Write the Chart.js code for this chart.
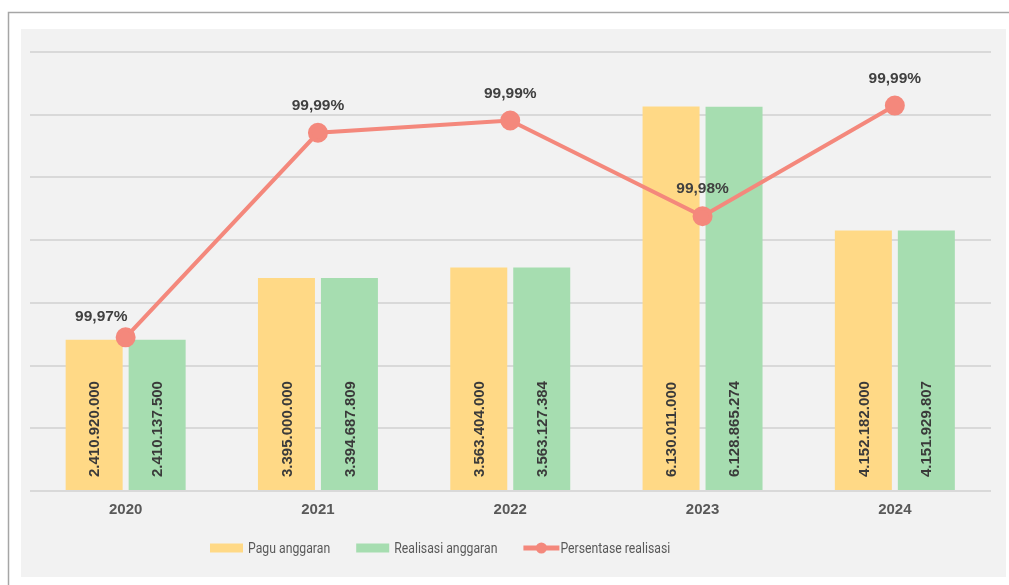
<!DOCTYPE html>
<html><head><meta charset="utf-8">
<script src="https://cdn.jsdelivr.net/npm/chart.js@4.4.0/dist/chart.umd.min.js"></script>
<style>html,body{margin:0;padding:0;background:#fff;} #wrap{width:1009px;height:585px;position:relative;}</style>
</head><body><div id="wrap"><canvas id="c" width="1009" height="585"></canvas></div>
<script>
const categories = ['2020', '2021', '2022', '2023', '2024'];
const paguAnggaran = [2410920000, 3395000000, 3563404000, 6130011000, 4152182000];
const realisasiAnggaran = [2410137500, 3394687809, 3563127384, 6128865274, 4151929807];
const persentaseRealisasi = [99.9675, 99.9908, 99.9922, 99.9813, 99.9939];
const seriesNames = ['Pagu anggaran', 'Realisasi anggaran', 'Persentase realisasi'];
const seriesColors = ['#FFD986', '#A6DDB0', '#F4887C'];

const BOLD = "bold 15px 'Liberation Sans', Arial, sans-serif";
const BOLD_PCT = "bold 15.5px 'Liberation Sans', Arial, sans-serif";
function fmtThousands(v) { return String(v).replace(/\B(?=(\d{3})+(?!\d))/g, '.'); }
function fmtPct(v) { return v.toFixed(2).replace('.', ',') + '%'; }

const backgroundPlugin = {
  id: 'bgPanel',
  beforeDraw(chart) {
    const ctx = chart.ctx;
    ctx.save();
    ctx.fillStyle = '#ffffff';
    ctx.fillRect(0, 0, chart.width, chart.height);
    ctx.strokeStyle = '#a6a6a6';
    ctx.lineWidth = 1.5;
    ctx.strokeRect(8.5, 12.5, chart.width + 20, chart.height + 20);
    ctx.fillStyle = '#f2f2f2';
    ctx.fillRect(21, 29, 985, 548);
    ctx.restore();
  }
};

const labelsPlugin = {
  id: 'valueLabels',
  afterDatasetsDraw(chart) {
    const ctx = chart.ctx;
    ctx.save();
    chart.data.datasets.forEach((ds, di) => {
      if (ds.type !== 'bar') return;
      const meta = chart.getDatasetMeta(di);
      meta.data.forEach((el, i) => {
        ctx.save();
        ctx.translate(el.x, el.base - 13);
        ctx.rotate(-Math.PI / 2);
        ctx.font = BOLD;
        ctx.fillStyle = '#3a3a3a';
        ctx.textAlign = 'left';
        ctx.textBaseline = 'middle';
        ctx.fillText(fmtThousands(ds.data[i]), 0, 1);
        ctx.restore();
      });
    });
    chart.data.datasets.forEach((ds, di) => {
      if (ds.type !== 'line') return;
      const meta = chart.getDatasetMeta(di);
      meta.data.forEach((el, i) => {
        ctx.font = BOLD_PCT;
        ctx.fillStyle = '#404040';
        ctx.textBaseline = 'middle';
        if (i === 0) {
          ctx.textAlign = 'right';
          ctx.fillText(fmtPct(ds.data[i]), el.x + 2, el.y - 21);
        } else {
          ctx.textAlign = 'center';
          ctx.fillText(fmtPct(ds.data[i]), el.x, el.y - 27);
        }
      });
    });
    ctx.restore();
  }
};

const legendPlugin = {
  id: 'customLegend',
  afterDraw(chart) {
    const ctx = chart.ctx;
    const squeeze = 0.845;
    let x = 210; const y = 548;
    ctx.save();
    ctx.font = "14.5px Roboto, 'Liberation Sans', sans-serif";
    ctx.textBaseline = 'middle';
    ctx.textAlign = 'left';
    chart.data.datasets.forEach((d) => {
      if (d.type === 'line') {
        ctx.strokeStyle = d.borderColor; ctx.lineWidth = 5;
        ctx.beginPath(); ctx.moveTo(x, y); ctx.lineTo(x + 36, y); ctx.stroke();
        ctx.fillStyle = d.borderColor;
        ctx.beginPath(); ctx.arc(x + 18, y, 5.5, 0, Math.PI * 2); ctx.fill();
        x += 37;
      } else {
        ctx.fillStyle = d.backgroundColor;
        ctx.fillRect(x, y - 4.5, 33, 9);
        x += 38;
      }
      ctx.fillStyle = '#595959';
      ctx.save();
      ctx.translate(x, y + 1);
      ctx.scale(squeeze, 1);
      ctx.fillText(d.label, 0, 0);
      ctx.restore();
      x += ctx.measureText(d.label).width * squeeze + 26;
    });
    ctx.restore();
  }
};

new Chart(document.getElementById('c'), {
  data: {
    labels: categories,
    datasets: [
      { type: 'bar', label: seriesNames[0], data: paguAnggaran, backgroundColor: seriesColors[0], yAxisID: 'y', order: 2, categoryPercentage: 0.655, barPercentage: 0.905 },
      { type: 'bar', label: seriesNames[1], data: realisasiAnggaran, backgroundColor: seriesColors[1], yAxisID: 'y', order: 2, categoryPercentage: 0.655, barPercentage: 0.905 },
      { type: 'line', label: seriesNames[2], data: persentaseRealisasi, borderColor: seriesColors[2], backgroundColor: seriesColors[2], pointBackgroundColor: seriesColors[2], pointBorderColor: seriesColors[2], borderWidth: 4, pointRadius: 8, pointHoverRadius: 8, tension: 0, yAxisID: 'y1', order: 1, clip: false }
    ]
  },
  options: {
    responsive: false,
    animation: false,
    devicePixelRatio: 1,
    layout: { padding: { left: 29.5, right: 18, top: 52, bottom: 0 } },
    plugins: { legend: { display: false }, tooltip: { enabled: false } },
    scales: {
      x: {
        grid: { display: false, drawTicks: false },
        border: { display: false },
        ticks: { font: { family: "'Liberation Sans', Arial, sans-serif", size: 15, weight: 'bold' }, color: '#595959', padding: 10 },
        afterFit: (s) => { s.height = 94; }
      },
      y: {
        min: 0, max: 7000000000,
        ticks: { display: false, stepSize: 1000000000 },
        grid: { color: '#d9d9d9', lineWidth: 2, drawTicks: false },
        border: { display: false },
        afterFit: (s) => { s.width = 0; }
      },
      y1: { display: false, min: 99.95, max: 100 }
    }
  },
  plugins: [backgroundPlugin, labelsPlugin, legendPlugin]
});
</script></body></html>
